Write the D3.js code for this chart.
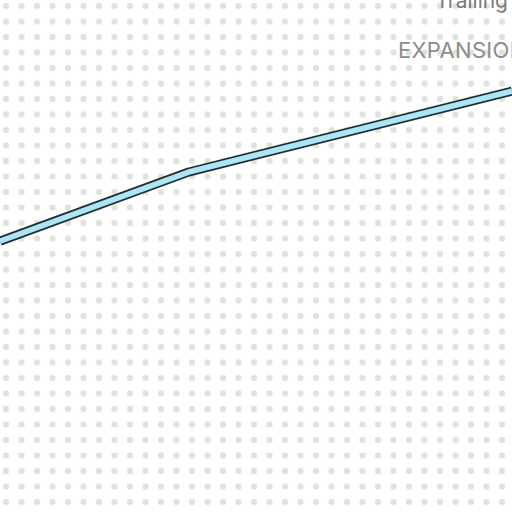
<!DOCTYPE html>
<html><head><meta charset="utf-8">
<script src="https://cdn.jsdelivr.net/npm/d3@7"></script>
<style>html,body{margin:0;padding:0;background:#fff;overflow:hidden}</style>
</head><body>
<svg id="c" width="512" height="512"></svg>
<script>
const xVals = [0, 35, 95];
const yVals = [52.9, 66.4, 82.2];
const labels = ["Trailing", "EXPANSION"];

const svg = d3.select("#c");
const W = 512, H = 512;
const x = d3.scaleLinear().domain([0, 95]).range([0, W]);
const y = d3.scaleLinear().domain([0, 100]).range([H, 0]);

// dotted background
const defs = svg.append("defs");
const pat = defs.append("pattern").attr("id","dots").attr("patternUnits","userSpaceOnUse")
  .attr("x", -1.75).attr("y", -1.75).attr("width", 15.5).attr("height", 15.5);
pat.append("circle").attr("cx", 7.75).attr("cy", 7.75).attr("r", 3.1).attr("fill", "#dfe4d9");
svg.append("rect").attr("width", W).attr("height", H).attr("fill", "#fff");
svg.append("rect").attr("width", W).attr("height", H).attr("fill", "url(#dots)");

const pts = xVals.map((d,i)=>[d, yVals[i]]);
const line = d3.line().x(d=>x(d[0])).y(d=>y(d[1]));
svg.append("path").attr("d", line(pts)).attr("fill","none")
  .attr("stroke","#1d2f35").attr("stroke-width",9).attr("stroke-linejoin","round");
svg.append("path").attr("d", line(pts)).attr("fill","none")
  .attr("stroke","#ace5f4").attr("stroke-width",5.6).attr("stroke-linejoin","round");

svg.append("text").attr("x", 508).attr("y", 8).attr("text-anchor","end")
  .attr("font-family","Inter, sans-serif").attr("font-size",21).attr("fill","#7a7a7a").text(labels[0]);
svg.append("text").attr("x", 398).attr("y", 58)
  .attr("font-family","Inter, sans-serif").attr("font-size",22).attr("letter-spacing",0.3).attr("fill","#8c8c8c").text(labels[1]);
</script>
</body></html>
